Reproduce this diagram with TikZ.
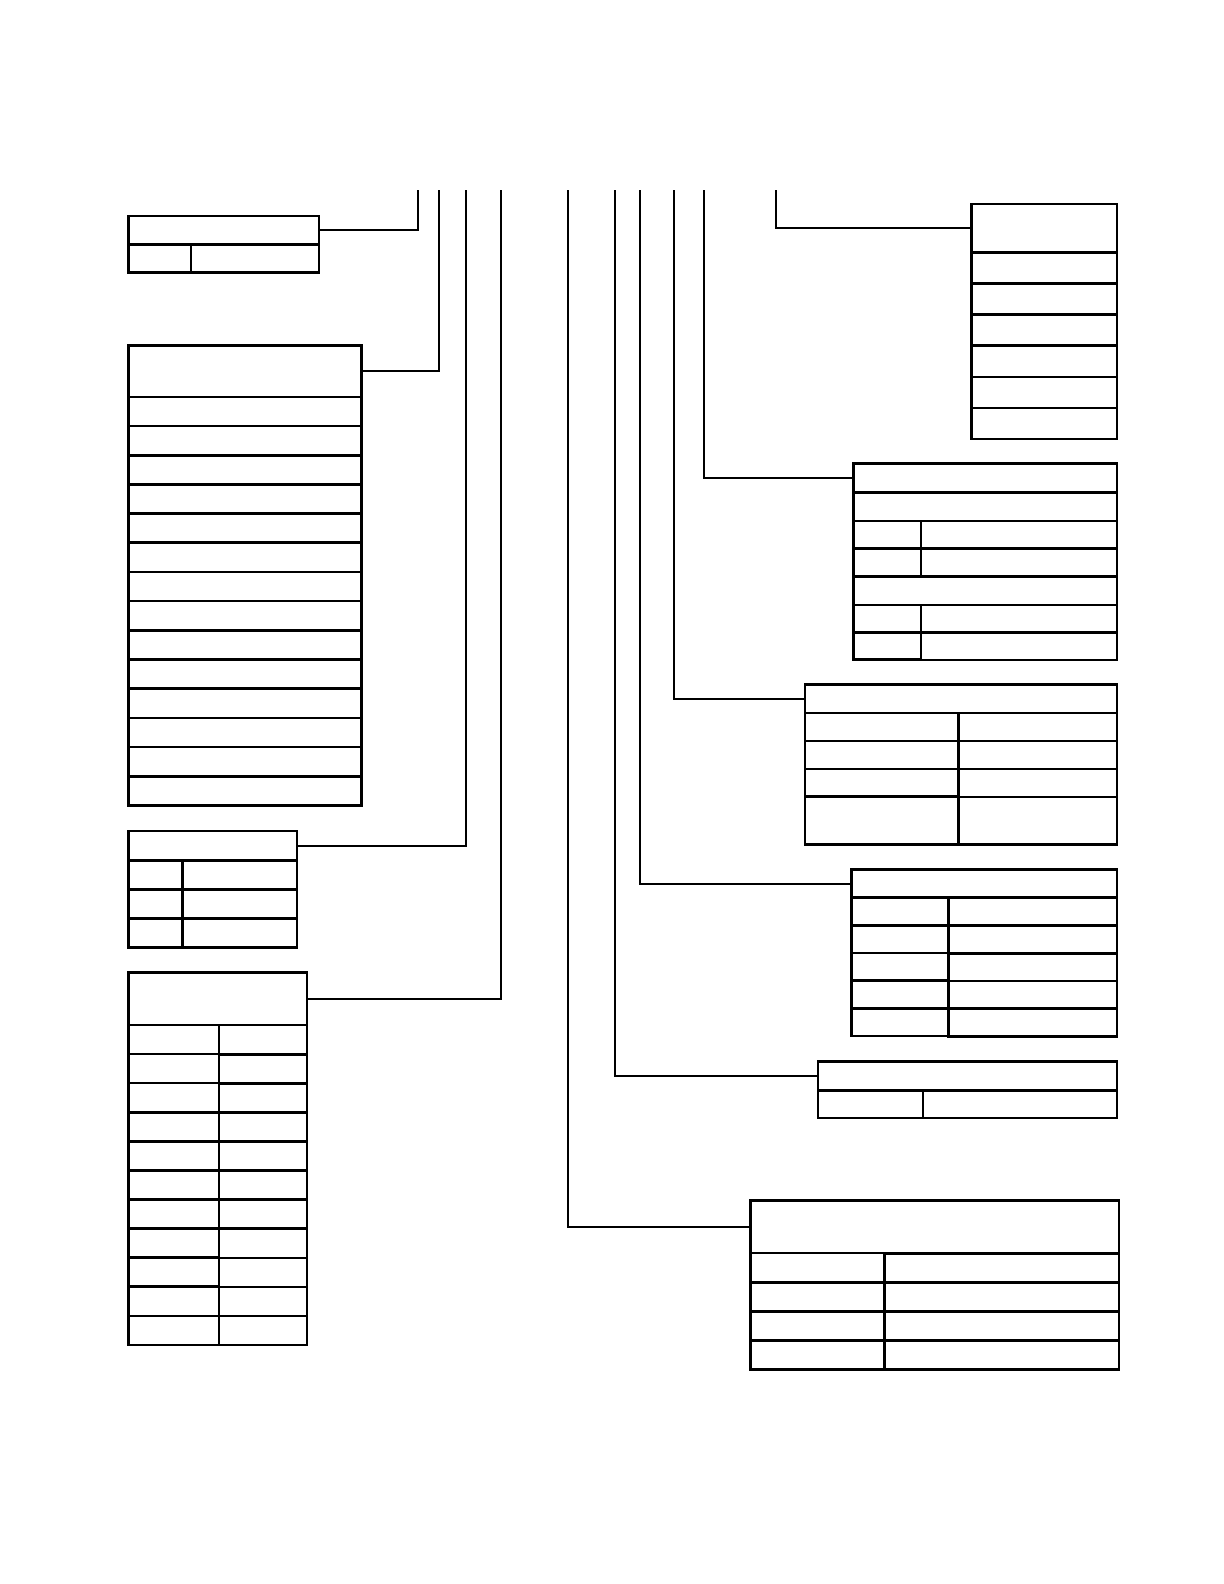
\documentclass[tikz,border=0pt]{standalone}
\usepackage{tikz}
\usetikzlibrary{positioning}

\tikzset{
  Zelle/.style={draw, line width=2.6pt, inner sep=0pt, outer sep=0pt, anchor=north west}, % Tabellenzelle
  Linie/.style={line width=2.1pt} % Verbindungslinie
}

\begin{document}
\begin{tikzpicture}[x=1pt, y=-1pt, scale=1.0098, transform shape]
\useasboundingbox (0,0) rectangle (1212.1,1568.6);

%Tabellen links
\node[Zelle, minimum width=189, minimum height=28] (A-h) at (127,214) {};
\node[Zelle, minimum width=62, minimum height=28] (A-1-l) at (127,242) {};
\node[Zelle, minimum width=127, minimum height=28, right=0pt of A-1-l] (A-1-r) {};

\node[Zelle, minimum width=231, minimum height=51] (B-h) at (127,342) {};
\foreach \i in {1,...,14}
  \node[Zelle, minimum width=231, minimum height=28.9] (B-\i) at (127,{393+28.9*(\i-1)}) {};

\node[Zelle, minimum width=167, minimum height=29] (C-h) at (127,823) {};
\foreach \i in {1,...,3}{
  \node[Zelle, minimum width=54, minimum height=28.7] (C-\i-l) at (127,{852+28.7*(\i-1)}) {};
  \node[Zelle, minimum width=113, minimum height=28.7, right=0pt of C-\i-l] (C-\i-r) {};
}

\node[Zelle, minimum width=177, minimum height=52] (D-h) at (127,963) {};
\foreach \i in {1,...,11}{
  \node[Zelle, minimum width=90, minimum height=28.8] (D-\i-l) at (127,{1015+28.8*(\i-1)}) {};
  \node[Zelle, minimum width=87, minimum height=28.8, right=0pt of D-\i-l] (D-\i-r) {};
}

%Tabellen rechts
\node[Zelle, minimum width=144, minimum height=48] (E-h) at (962,202) {};
\foreach \i in {1,...,6}
  \node[Zelle, minimum width=144, minimum height=30.8] (E-\i) at (962,{250+30.8*(\i-1)}) {};

\node[Zelle, minimum width=261, minimum height=29] (F-h) at (845,459) {};
\node[Zelle, minimum width=261, minimum height=28] (F-1) at (845,488) {};
\foreach \i/\y in {2/516,3/543.5,5/599,6/626}{
  \node[Zelle, minimum width=67, minimum height=27.3] (F-\i-l) at (845,\y) {};
  \node[Zelle, minimum width=194, minimum height=27.3, right=0pt of F-\i-l] (F-\i-r) {};
}
\node[Zelle, minimum width=261, minimum height=28] (F-4) at (845,571) {};

\node[Zelle, minimum width=309, minimum height=28] (G-h) at (797,678) {};
\foreach \i in {1,...,3}{
  \node[Zelle, minimum width=152, minimum height=27.7] (G-\i-l) at (797,{706+27.7*(\i-1)}) {};
  \node[Zelle, minimum width=157, minimum height=27.7, right=0pt of G-\i-l] (G-\i-r) {};
}
\node[Zelle, minimum width=152, minimum height=47] (G-4-l) at (797,789) {};
\node[Zelle, minimum width=157, minimum height=47, right=0pt of G-4-l] (G-4-r) {};

\node[Zelle, minimum width=263, minimum height=28] (H-h) at (843,861) {};
\foreach \i in {1,...,5}{
  \node[Zelle, minimum width=96, minimum height=27.4] (H-\i-l) at (843,{889+27.4*(\i-1)}) {};
  \node[Zelle, minimum width=167, minimum height=27.4, right=0pt of H-\i-l] (H-\i-r) {};
}

\node[Zelle, minimum width=296, minimum height=29] (I-h) at (810,1051) {};
\node[Zelle, minimum width=104, minimum height=27] (I-1-l) at (810,1080) {};
\node[Zelle, minimum width=192, minimum height=27, right=0pt of I-1-l] (I-1-r) {};

\node[Zelle, minimum width=365, minimum height=52] (J-h) at (743,1189) {};
\foreach \i in {1,...,4}{
  \node[Zelle, minimum width=133, minimum height=28.75] (J-\i-l) at (743,{1241+28.75*(\i-1)}) {};
  \node[Zelle, minimum width=232, minimum height=28.75, right=0pt of J-\i-l] (J-\i-r) {};
}

%Leiterbahnen
\foreach \t/\x in {A/414,B/435,C/461,D/496,J/562,I/609,H/634,G/667,F/697,E/768}
  \coordinate (o\t) at (\x,188);

\foreach \t in {A,B,C,D}
  \draw[Linie] (\t-h.east) -| (o\t);
\foreach \t in {E,F,G,H,I,J}
  \draw[Linie] (\t-h.west) -| (o\t);

\end{tikzpicture}
\end{document}
